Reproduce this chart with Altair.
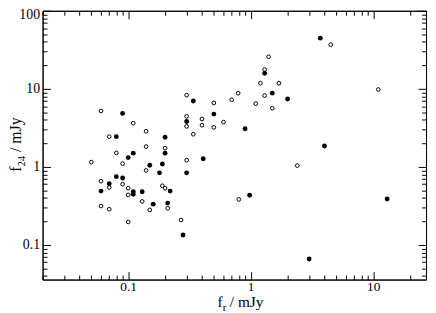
import altair as alt
import pandas as pd

# ---- data ----
open_x = [0.05, 0.06, 0.07, 0.11, 0.14, 0.08, 0.14, 0.2, 0.3, 0.5, 0.3, 0.3, 0.4, 0.4, 0.34, 0.5,
          0.3, 0.09, 0.14, 0.06, 0.07, 0.09, 0.1, 0.1, 0.19, 0.2, 0.13, 0.21, 0.15, 0.06, 0.07, 0.1,
          0.27, 0.6, 0.7, 0.79, 1.1, 1.2, 1.3, 1.4, 1.3, 1.7, 1.5, 4.5, 11, 2.4, 0.8]
open_y = [1.15, 5.2, 2.44, 3.63, 2.86, 1.51, 1.82, 1.74, 8.3, 6.6, 4.44, 3.3, 4.11, 3.42, 2.62, 3.21,
          1.22, 1.1, 0.9, 0.656, 0.546, 0.6, 0.534, 0.438, 0.573, 0.534, 0.361, 0.295, 0.281, 0.315, 0.287, 0.197,
          0.209, 3.74, 7.25, 8.8, 6.46, 11.8, 17.7, 25.8, 8.2, 11.8, 5.64, 36.8, 9.8, 1.04, 0.383]

filled_x = [0.09, 0.08, 0.11, 0.1, 0.2, 0.2, 0.34, 0.3, 0.5, 0.41, 0.15, 0.19, 0.3, 0.18, 0.07, 0.08,
            0.09, 0.06, 0.11, 0.11, 0.13, 0.22, 0.16, 0.21, 0.28, 0.9, 1.3, 1.5, 2.0, 3.7, 4.0, 0.98, 3.0, 13]
filled_y = [4.84, 2.44, 1.5, 1.315, 2.4, 1.5, 6.98, 3.81, 4.75, 1.27, 1.05, 1.09, 0.84, 0.84, 0.61, 0.75,
            0.72, 0.49, 0.48, 0.445, 0.48, 0.49, 0.333, 0.344, 0.134, 3.08, 15.8, 8.8, 7.4, 44.6, 1.85, 0.433, 0.066, 0.388]

x_ticks = [0.02, 0.03, 0.04, 0.05, 0.06, 0.07, 0.08, 0.09,
           0.1, 0.2, 0.3, 0.4, 0.5, 0.6, 0.7, 0.8, 0.9,
           1, 2, 3, 4, 5, 6, 7, 8, 9, 10, 20]
y_ticks = [0.04, 0.05, 0.06, 0.07, 0.08, 0.09,
           0.1, 0.2, 0.3, 0.4, 0.5, 0.6, 0.7, 0.8, 0.9,
           1, 2, 3, 4, 5, 6, 7, 8, 9,
           10, 20, 30, 40, 50, 60, 70, 80, 90, 100]
x_major = [0.1, 1, 10]
y_major = [0.1, 1, 10, 100]
x_domain = [0.02, 27]
y_domain = [0.036, 100]

FONT = "Liberation Serif"
open_df = pd.DataFrame({"x": open_x, "y": open_y})
filled_df = pd.DataFrame({"x": filled_x, "y": filled_y})


def is_major(major):
    arr = ",".join(repr(v) for v in major)
    return f"indexof([{arr}], datum.value) >= 0"


def make_axis(orient, ticks, major, labels, pad, size=14, extra=None):
    kw = dict(orient=orient, values=ticks,
              tickSize={"expr": f"{is_major(major)} ? -8 : -4.5"},
              tickColor="black", tickWidth=1, domainColor="black", domainWidth=1,
              grid=False, title=None, labels=labels)
    if labels:
        kw.update(labelExpr=f"{is_major(major)} ? format(datum.value, '~g') : ''",
                  labelFont=FONT, labelFontSize=size, labelColor="black",
                  labelPadding=pad, labelFlush=False, labelOverlap=False)
    if extra:
        kw.update(extra)
    return alt.Axis(**kw)


xs = alt.Scale(type="log", domain=x_domain, nice=False)
ys = alt.Scale(type="log", domain=y_domain, nice=False)

open_layer = alt.Chart(open_df).mark_point(
    shape="circle", filled=False, color="black", size=14, strokeWidth=1, opacity=1
).encode(
    x=alt.X("x:Q", scale=xs, axis=make_axis("bottom", x_ticks, x_major, True, 8, 13.5)),
    y=alt.Y("y:Q", scale=ys, axis=make_axis("left", y_ticks, y_major, True, 11, 14,
                                             {"labelOffset": {"expr": "datum.value == 100 ? 4 : 0"}})),
)

filled_layer = alt.Chart(filled_df).mark_circle(
    color="black", size=24, opacity=1
).encode(
    x=alt.X("x:Q", scale=xs, axis=make_axis("top", x_ticks, x_major, False, 0)),
    y=alt.Y("y:Q", scale=ys, axis=make_axis("right", y_ticks, y_major, False, 0)),
)


def txt(t, x, y, dx, dy, size, angle=0):
    return alt.Chart(alt.Data(values=[{}])).mark_text(
        text=t, font=FONT, fontSize=size, color="black", align="left",
        baseline="alphabetic", dx=dx, dy=dy, angle=angle
    ).encode(x=alt.value(x), y=alt.value(y))


titles = [
    txt("f", 177, 300, 0, 0, 15.5),
    txt("r", 177, 300, 5.2, 4, 11),
    txt("/ mJy", 177, 300, 12.5, 0, 15.5),
    txt("f", -22, 163, 0, 0, 16, 270),
    txt("24", -22, 163, 5.3, 4, 11, 270),
    txt("/ mJy", -22, 163, 20, 0, 16, 270),
]

chart = alt.layer(open_layer, filled_layer, *titles).resolve_axis(
    x="independent", y="independent"
).properties(
    width=388, height=272,
    autosize=alt.AutoSizeParams(type="none"),
    padding={"left": 35, "top": 1, "right": 2, "bottom": 31},
).configure_view(stroke="black", strokeWidth=1)

chart.save("out.html", embed_options={"renderer": "svg", "actions": False})
